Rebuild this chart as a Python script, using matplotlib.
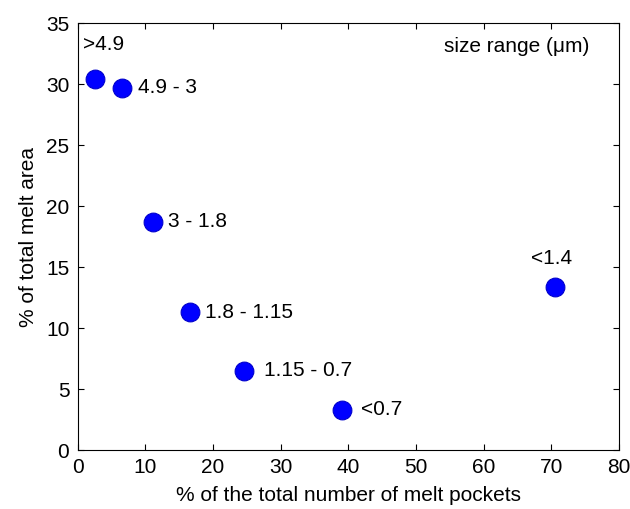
import matplotlib
matplotlib.use('Agg')
import matplotlib.pyplot as plt

# % of total number of melt pockets vs % of total melt area
pct_number = [2.6, 6.6, 11.1, 16.6, 24.6, 39.0, 70.6]
pct_area = [30.4, 29.7, 18.7, 11.3, 6.5, 3.3, 13.4]
size_labels = ['>4.9', '4.9 - 3', '3 - 1.8', '1.8 - 1.15', '1.15 - 0.7', '<0.7', '<1.4']

plt.rcParams['font.family'] = ['Liberation Sans', 'DejaVu Sans']

fig = plt.figure(figsize=(6.3, 5.09), dpi=100)
ax = fig.add_axes([0.1233, 0.1159, 0.8592, 0.8389])

ax.plot(pct_number, pct_area, 'o', color='#0000ff', markeredgecolor='#0000cc',
        markersize=13.5, markeredgewidth=0.8, linestyle='none')

# label offsets in points (dx, dy, ha)
offsets = [(-9, 25, 'left'), (11, 0, 'left'), (11, 0, 'left'), (11, 0, 'left'),
           (14, 0, 'left'), (14, 0, 'left'), (-3, 20, 'center')]
for x, y, lab, (dx, dy, ha) in zip(pct_number, pct_area, size_labels, offsets):
    ax.annotate(lab, (x, y), xytext=(dx, dy), textcoords='offset points',
                ha=ha, va='center', fontsize=15)

ax.text(0.945, 0.945, 'size range (\u03bcm)', transform=ax.transAxes,
        ha='right', va='center', fontsize=15)

ax.set_xlim(0, 80)
ax.set_ylim(0, 35)
ax.set_xticks(range(0, 81, 10))
ax.set_yticks(range(0, 36, 5))
ax.tick_params(direction='in', top=True, right=True, length=4, labelsize=15, pad=6)
ax.set_xlabel('% of the total number of melt pockets', fontsize=15, labelpad=6)
ax.set_ylabel('% of total melt area', fontsize=15, labelpad=6)

fig.savefig('out.png', dpi=100)
